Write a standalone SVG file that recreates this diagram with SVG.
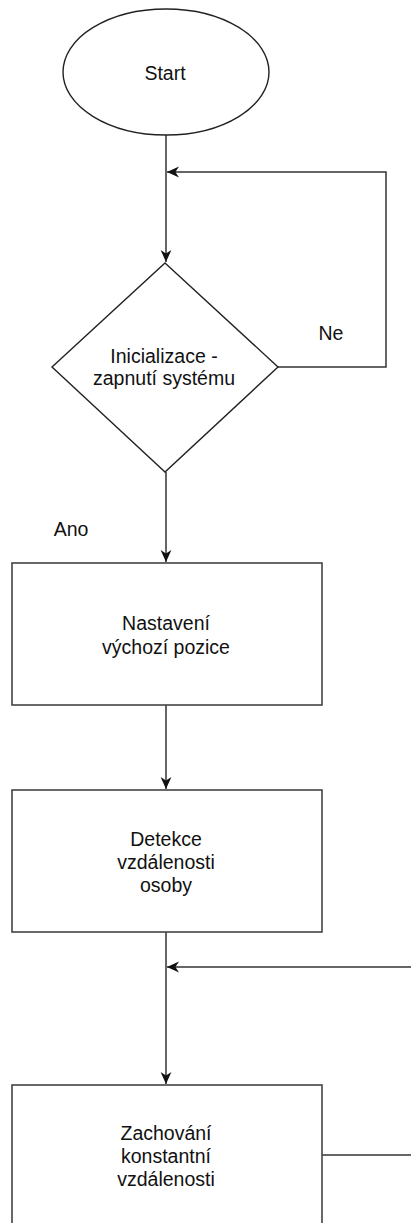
<svg xmlns="http://www.w3.org/2000/svg" width="411" height="1223" viewBox="0 0 411 1223">
<style>
.shape{fill:#fff;stroke:#222;stroke-width:1.4}
.box{fill:#fff;stroke:#444;stroke-width:1.6}
.edge{fill:none;stroke:#333;stroke-width:1.5}
text{font-family:"Liberation Sans",Arial,sans-serif;font-size:19.5px;fill:#111;text-anchor:middle;dominant-baseline:central}
</style>
<defs>
<marker id="arr" viewBox="0 0 10 10" refX="10" refY="5" markerWidth="12" markerHeight="12" markerUnits="userSpaceOnUse" orient="auto">
<path d="M0,0.5 L10,5 L0,9.5 L3,5 Z" fill="#111"/>
</marker>
</defs>
<rect width="411" height="1223" fill="#fff"/>
<g id="edges">
<path class="edge" d="M166,135 V262" marker-end="url(#arr)"/>
<path class="edge" d="M278,367 H386 V172 H167" marker-end="url(#arr)"/>
<path class="edge" d="M166,472 V562" marker-end="url(#arr)"/>
<path class="edge" d="M166,705 V789" marker-end="url(#arr)"/>
<path class="edge" d="M166,932 V1084" marker-end="url(#arr)"/>
<path class="edge" d="M412,967 H167" marker-end="url(#arr)"/>
<path class="edge" d="M322,1155 H412"/>
</g>
<g id="start">
<ellipse class="shape" cx="166" cy="72" rx="103" ry="63"/>
<text x="165" y="73">Start</text>
</g>
<g id="init">
<path class="shape" d="M165,263 L278,367 L165,472 L52,367 Z"/>
<text x="164" y="356">Inicializace -</text>
<text x="164" y="378">zapnutí systému</text>
</g>
<g id="labels">
<text x="331" y="333">Ne</text>
<text x="71" y="529">Ano</text>
</g>
<g id="nastaveni">
<rect class="box" x="12" y="563" width="310" height="142"/>
<text x="166" y="623">Nastavení</text>
<text x="166" y="647">výchozí pozice</text>
</g>
<g id="detekce">
<rect class="box" x="12" y="790" width="310" height="142"/>
<text x="166" y="839">Detekce</text>
<text x="166" y="862">vzdálenosti</text>
<text x="166" y="885">osoby</text>
</g>
<g id="zachovani">
<rect class="box" x="12" y="1085" width="310" height="150"/>
<text x="166" y="1133">Zachování</text>
<text x="166" y="1156">konstantní</text>
<text x="166" y="1179">vzdálenosti</text>
</g>
</svg>
